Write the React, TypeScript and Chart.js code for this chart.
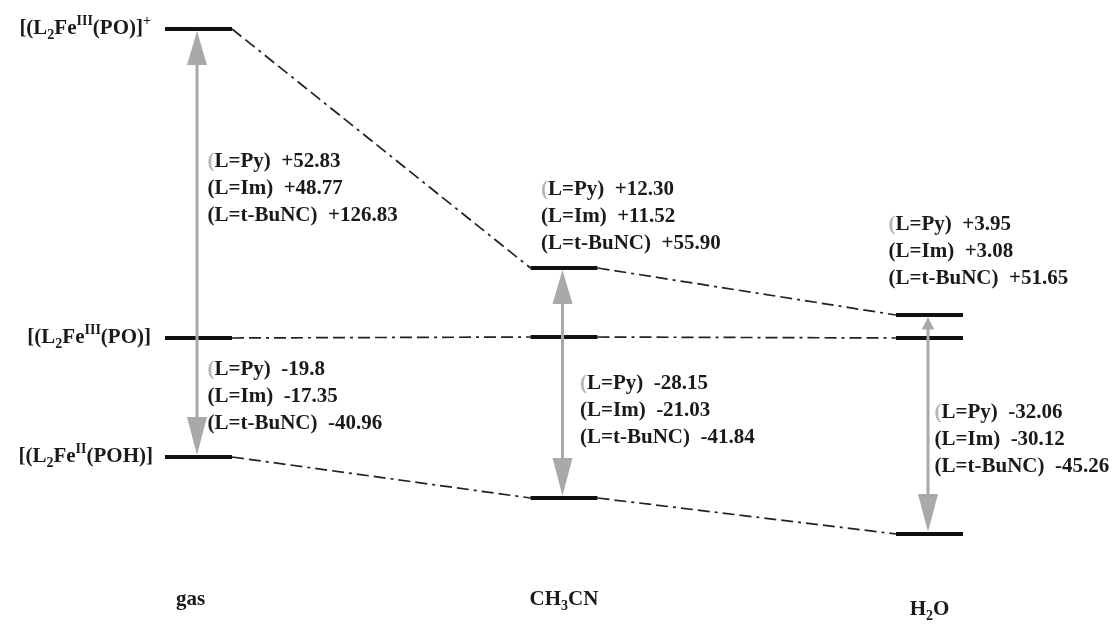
import React, { useEffect, useRef } from 'react';
import { Chart, registerables } from 'chart.js';
Chart.register(...registerables);

// ---- data ----
const solvents = ['gas', 'CH3CN', 'H2O'];
const solventX = [0, 1, 2];
// relative energy levels (diagram units) per solvent
const levelCation = [154.5, 35, 11.5]; // [(L2FeIII(PO)]+
const levelNeutral = [0, 0.5, 0]; // [(L2FeIII(PO)]
const levelReduced = [-59.5, -80, -98]; // [(L2FeII(POH)]
const ligands = ['L=Py', 'L=Im', 'L=t-BuNC'];
const oxPy = ['+52.83', '+12.30', '+3.95'];
const oxIm = ['+48.77', '+11.52', '+3.08'];
const oxBu = ['+126.83', '+55.90', '+51.65'];
const redPy = ['-19.8', '-28.15', '-32.06'];
const redIm = ['-17.35', '-21.03', '-30.12'];
const redBu = ['-40.96', '-41.84', '-45.26'];

const HW = 0.0917; // half width of level bar (x units)
const FONT = '"Liberation Serif", "Times New Roman", serif';

type Piece = { t: string; k: 'n' | 'sub' | 'sup'; c?: string };

function drawRich(ctx: CanvasRenderingContext2D, pieces: Piece[], x: number, y: number, align: 'left' | 'right' | 'center', size = 20, weight = 'bold') {
  const small = Math.round(size * 0.65);
  const fontOf = (k: string) => `${weight} ${k === 'n' ? size : small}px ${FONT}`;
  let total = 0;
  for (const p of pieces) {
    ctx.font = fontOf(p.k);
    total += ctx.measureText(p.t).width;
  }
  let cx = align === 'left' ? x : align === 'right' ? x - total : x - total / 2;
  ctx.textAlign = 'left';
  ctx.textBaseline = 'middle';
  for (const p of pieces) {
    ctx.font = fontOf(p.k);
    ctx.fillStyle = p.c || '#1a1a1a';
    const dy = p.k === 'sub' ? size * 0.32 : p.k === 'sup' ? -size * 0.36 : 0;
    ctx.fillText(p.t, cx, y + dy);
    cx += ctx.measureText(p.t).width;
  }
}

const diagramPlugin = {
  id: 'diagram',
  afterDatasetsDraw(chart: any) {
    const ctx: CanvasRenderingContext2D = chart.ctx;
    const xs = chart.scales.x;
    const ys = chart.scales.y;
    ctx.save();
    // arrows
    const drawHead = (x: number, tip: number, dir: number, len: number) => {
      const w = Math.min(10, len * 0.5);
      ctx.beginPath();
      ctx.moveTo(x, tip);
      ctx.lineTo(x - w, tip - dir * len);
      ctx.lineTo(x + w, tip - dir * len);
      ctx.closePath();
      ctx.fill();
    };
    ctx.strokeStyle = '#a9a9a9';
    ctx.fillStyle = '#a9a9a9';
    ctx.lineWidth = 3;
    solventX.forEach((sx, i) => {
      const x = xs.getPixelForValue(sx) - 1.5;
      const yTop = ys.getPixelForValue(levelCation[i]) + 2;
      const yMid = ys.getPixelForValue(levelNeutral[i]);
      const yBot = ys.getPixelForValue(levelReduced[i]) - 2;
      ctx.beginPath();
      ctx.moveTo(x, yTop + 10);
      ctx.lineTo(x, yBot - 10);
      ctx.stroke();
      const upLen = Math.min(34, (yMid - yTop) * 0.6);
      const dnLen = Math.min(38, (yBot - yMid) * 0.6);
      drawHead(x, yTop, -1, upLen);
      drawHead(x, yBot, 1, dnLen);
    });

    // value annotations
    const oxDx = [9, -23, -41];
    const oxY = [88, 74, 56.5];
    const redDx = [9, 16, 5];
    const redY = [-16, -23, -37.5];
    const LH = 27;
    const block = (i: number, dx: number, yv: number, vals: string[]) => {
      const x0 = xs.getPixelForValue(solventX[i]) + dx;
      const y0 = ys.getPixelForValue(yv);
      vals.forEach((v, j) => {
        const pieces: Piece[] = [
          { t: '(', k: 'n', c: j === 0 ? '#b5b5b5' : '#1a1a1a' },
          { t: `${ligands[j]})  ${v}`, k: 'n' },
        ];
        drawRich(ctx, pieces, x0, y0 + j * LH, 'left', 21);
      });
    };
    solventX.forEach((_, i) => {
      block(i, oxDx[i], oxY[i], [oxPy[i], oxIm[i], oxBu[i]]);
      block(i, redDx[i], redY[i], [redPy[i], redIm[i], redBu[i]]);
    });

    // state labels on the left
    const lx = xs.getPixelForValue(solventX[0] - HW) - 14;
    drawRich(ctx, [
      { t: '[(L', k: 'n' }, { t: '2', k: 'sub' }, { t: 'Fe', k: 'n' }, { t: 'III', k: 'sup' },
      { t: '(PO)]', k: 'n' }, { t: '+', k: 'sup' },
    ], lx, ys.getPixelForValue(levelCation[0]), 'right', 21);
    drawRich(ctx, [
      { t: '[(L', k: 'n' }, { t: '2', k: 'sub' }, { t: 'Fe', k: 'n' }, { t: 'III', k: 'sup' },
      { t: '(PO)]', k: 'n' },
    ], lx, ys.getPixelForValue(levelNeutral[0]), 'right', 21);
    drawRich(ctx, [
      { t: '[(L', k: 'n' }, { t: '2', k: 'sub' }, { t: 'Fe', k: 'n' }, { t: 'II', k: 'sup' },
      { t: '(POH)]', k: 'n' },
    ], lx + 2, ys.getPixelForValue(levelReduced[0]), 'right', 21);

    // solvent labels at bottom
    const solventPieces: Piece[][] = solvents.map((s) => {
      const out: Piece[] = [];
      const re = /(\d+)/g;
      let last = 0;
      let m: RegExpExecArray | null;
      while ((m = re.exec(s))) {
        if (m.index > last) out.push({ t: s.slice(last, m.index), k: 'n' });
        out.push({ t: m[1], k: 'sub' });
        last = m.index + m[1].length;
      }
      if (last < s.length) out.push({ t: s.slice(last), k: 'n' });
      return out;
    });
    const labelY = [-131, -131, -136];
    solventPieces.forEach((p, i) => {
      drawRich(ctx, p, xs.getPixelForValue(solventX[i]) - 8 * (i === 0 ? 1 : 0), ys.getPixelForValue(labelY[i]), 'center', 21);
    });
    ctx.restore();
  },
};

export default function App() {
  const ref = useRef<HTMLCanvasElement>(null);
  useEffect(() => {
    if (!ref.current) return;
    const levelSets = [levelCation, levelNeutral, levelReduced];
    const datasets: any[] = [];
    // connectors (dash-dot)
    levelSets.forEach((lv) => {
      for (let i = 0; i < solventX.length - 1; i++) {
        datasets.push({
          data: [
            { x: solventX[i] + HW, y: lv[i] },
            { x: solventX[i + 1] - HW, y: lv[i + 1] },
          ],
          borderColor: '#222222',
          borderWidth: 1.7,
          borderDash: [12, 5, 12, 5, 3, 5],
          pointRadius: 0,
          fill: false,
          tension: 0,
        });
      }
    });
    // levels
    levelSets.forEach((lv) => {
      solventX.forEach((sx, i) => {
        datasets.push({
          data: [
            { x: sx - HW, y: lv[i] },
            { x: sx + HW, y: lv[i] },
          ],
          borderColor: '#111111',
          borderWidth: 4,
          borderCapStyle: 'butt',
          pointRadius: 0,
          fill: false,
        });
      });
    });
    const chart = new Chart(ref.current, {
      type: 'line',
      data: { datasets },
      options: {
        animation: false,
        responsive: true,
        maintainAspectRatio: false,
        layout: { padding: 0 },
        plugins: { legend: { display: false }, tooltip: { enabled: false } },
        scales: {
          x: { type: 'linear', display: false, min: -0.5431, max: 2.4993 },
          y: { type: 'linear', display: false, min: -143.5, max: 169 },
        },
      },
      plugins: [diagramPlugin],
    });
    return () => chart.destroy();
  }, []);
  return (
    <div style={{ position: 'absolute', left: 0, top: 0, width: 1112, height: 625, background: '#fff' }}>
      <canvas ref={ref} />
    </div>
  );
}
